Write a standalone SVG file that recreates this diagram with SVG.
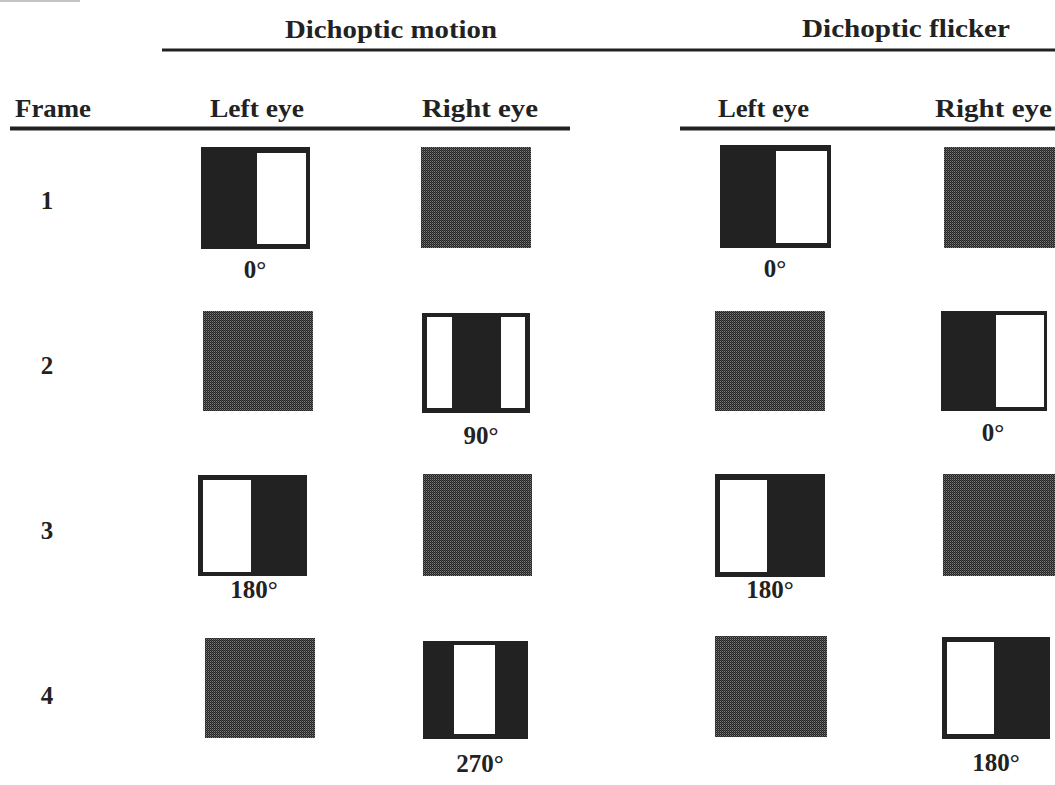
<svg xmlns="http://www.w3.org/2000/svg" width="1055" height="785" viewBox="0 0 1055 785">
  <defs>
    <!-- dithered mid-grey used for blank (uniform) fields -->
    <pattern id="dither" width="2" height="2" patternUnits="userSpaceOnUse">
      <rect x="0" y="0" width="2" height="2" fill="#262626"/>
      <rect x="1" y="0" width="1" height="1" fill="#4a4a4a"/>
      <rect x="0" y="1" width="1" height="1" fill="#7c7c7c"/>
    </pattern>
  </defs>
  <style>
    text { font-family: "Liberation Serif", "DejaVu Serif", serif; font-weight: bold; fill: #222; }
    .hdr { font-size: 26px; }
    .lbl { font-size: 25px; text-anchor: middle; }
    .num { font-size: 25px; text-anchor: middle; }
    .ink { fill: #222; }
    .paper { fill: #fff; }
    .grey { fill: url(#dither); }
    .rule { stroke: #222; fill: none; }
  </style>
  <rect width="1055" height="785" fill="#fff"/>
  <rect x="0" y="0" width="80" height="2" fill="#c4c4c4"/>

  <!-- header rules -->
  <g id="rules">
    <line class="rule" x1="162" y1="50" x2="1055" y2="50" stroke-width="3"/>
    <line class="rule" x1="10" y1="128.5" x2="570" y2="128.5" stroke-width="4"/>
    <line class="rule" x1="680" y1="128.5" x2="1055" y2="128.5" stroke-width="4"/>
  </g>

  <!-- column headings -->
  <g id="headings">
    <text class="hdr" x="285" y="38" textLength="212" lengthAdjust="spacingAndGlyphs">Dichoptic motion</text>
    <text class="hdr" x="802" y="37" textLength="208" lengthAdjust="spacingAndGlyphs">Dichoptic flicker</text>
    <text class="hdr" x="15" y="117" textLength="76" lengthAdjust="spacingAndGlyphs">Frame</text>
    <text class="hdr" x="210" y="117" textLength="94" lengthAdjust="spacingAndGlyphs">Left eye</text>
    <text class="hdr" x="422" y="117" textLength="116" lengthAdjust="spacingAndGlyphs">Right eye</text>
    <text class="hdr" x="718" y="117" textLength="91" lengthAdjust="spacingAndGlyphs">Left eye</text>
    <text class="hdr" x="935" y="117" textLength="117" lengthAdjust="spacingAndGlyphs">Right eye</text>
  </g>

  <!-- frame numbers -->
  <g id="frames">
    <text class="num" x="47" y="209">1</text>
    <text class="num" x="47" y="374">2</text>
    <text class="num" x="47" y="539">3</text>
    <text class="num" x="47" y="704">4</text>
  </g>

  <!-- Dichoptic motion: left eye -->
  <g id="motion-left-1">
    <rect class="ink" x="201" y="147" width="109" height="102"/>
    <rect class="paper" x="257" y="153" width="49" height="91"/>
    <text class="lbl" x="255" y="278">0°</text>
  </g>
  <g id="motion-left-2">
    <rect class="grey" x="203" y="311" width="110" height="100"/>
  </g>
  <g id="motion-left-3">
    <rect class="ink" x="198" y="475" width="109" height="101"/>
    <rect class="paper" x="203" y="480" width="48" height="92"/>
    <text class="lbl" x="254" y="598">180°</text>
  </g>
  <g id="motion-left-4">
    <rect class="grey" x="205" y="638" width="110" height="100"/>
  </g>

  <!-- Dichoptic motion: right eye -->
  <g id="motion-right-1">
    <rect class="grey" x="421" y="147" width="110" height="101"/>
  </g>
  <g id="motion-right-2">
    <rect class="ink" x="422" y="313" width="108" height="100"/>
    <rect class="paper" x="427" y="317" width="25" height="91"/>
    <rect class="paper" x="501" y="317" width="24" height="91"/>
    <text class="lbl" x="481" y="444">90°</text>
  </g>
  <g id="motion-right-3">
    <rect class="grey" x="423" y="474" width="109" height="102"/>
  </g>
  <g id="motion-right-4">
    <rect class="ink" x="423" y="641" width="105" height="98"/>
    <rect class="paper" x="454" y="645" width="41" height="89"/>
    <text class="lbl" x="480" y="772">270°</text>
  </g>

  <!-- Dichoptic flicker: left eye -->
  <g id="flicker-left-1">
    <rect class="ink" x="720" y="145" width="111" height="103"/>
    <rect class="paper" x="776" y="151" width="51" height="92"/>
    <text class="lbl" x="775" y="277">0°</text>
  </g>
  <g id="flicker-left-2">
    <rect class="grey" x="715" y="311" width="110" height="100"/>
  </g>
  <g id="flicker-left-3">
    <rect class="ink" x="715" y="474" width="110" height="103"/>
    <rect class="paper" x="720" y="480" width="47" height="92"/>
    <text class="lbl" x="770" y="598">180°</text>
  </g>
  <g id="flicker-left-4">
    <rect class="grey" x="715" y="636" width="112" height="101"/>
  </g>

  <!-- Dichoptic flicker: right eye -->
  <g id="flicker-right-1">
    <rect class="grey" x="944" y="147" width="111" height="101"/>
  </g>
  <g id="flicker-right-2">
    <rect class="ink" x="941" y="311" width="106" height="100"/>
    <rect class="paper" x="996" y="315" width="48" height="92"/>
    <text class="lbl" x="993" y="441">0°</text>
  </g>
  <g id="flicker-right-3">
    <rect class="grey" x="943" y="474" width="112" height="102"/>
  </g>
  <g id="flicker-right-4">
    <rect class="ink" x="942" y="637" width="108" height="102"/>
    <rect class="paper" x="947" y="642" width="47" height="92"/>
    <text class="lbl" x="996" y="771">180°</text>
  </g>
</svg>
